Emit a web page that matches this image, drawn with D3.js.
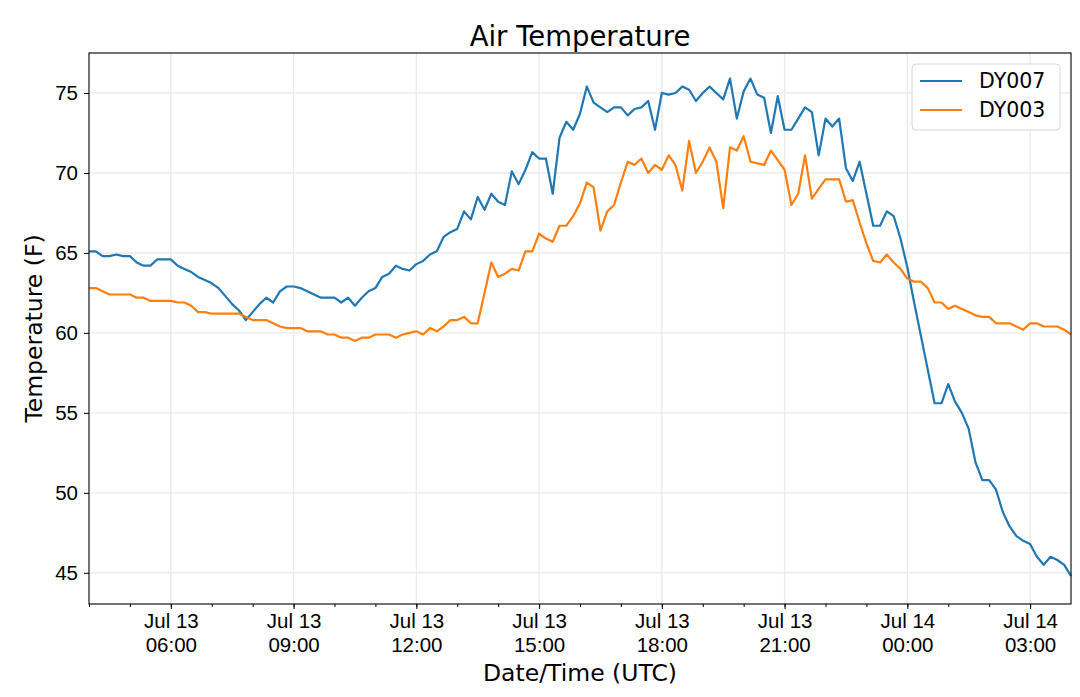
<!DOCTYPE html>
<html>
<head>
<meta charset="utf-8">
<script src="https://cdn.jsdelivr.net/npm/d3@7"></script>
<style>
  body { margin: 0; background: #fff; }
  svg { display: block; font-family: "DejaVu Sans", sans-serif; }
  .grid line { stroke: #ebebeb; stroke-width: 1.4; }
  .axis path, .axis line { stroke: #000; }
  .axis text { fill: #000; font-size: 20.5px; }
</style>
</head>
<body>
<script>
// 10-minute readings, Jul 13 04:00 UTC to Jul 14 04:00 UTC
var startTime = Date.UTC(2019, 6, 13, 4, 0);
var stepMinutes = 10;

var seriesNames = ["DY007", "DY003"];
var seriesColors = ["#1f77b4", "#ff7f0e"];

var dy007 = [
  65.1, 65.1, 64.8, 64.8, 64.9, 64.8, 64.8, 64.4, 64.2, 64.2,
  64.6, 64.6, 64.6, 64.2, 64.0, 63.8, 63.5, 63.3, 63.1, 62.8,
  62.3, 61.8, 61.4, 60.8, 61.3, 61.8, 62.2, 61.9, 62.6, 62.9,
  62.9, 62.8, 62.6, 62.4, 62.2, 62.2, 62.2, 61.9, 62.2, 61.7,
  62.2, 62.6, 62.8, 63.5, 63.7, 64.2, 64.0, 63.9, 64.3, 64.5,
  64.9, 65.1, 66.0, 66.3, 66.5, 67.6, 67.1, 68.5, 67.7, 68.7,
  68.2, 68.0, 70.1, 69.3, 70.2, 71.3, 70.9, 70.9, 68.7, 72.2,
  73.2, 72.7, 73.7, 75.4, 74.4, 74.1, 73.8, 74.1, 74.1, 73.6,
  74.0, 74.1, 74.5, 72.7, 75.0, 74.9, 75.0, 75.4, 75.2, 74.5,
  75.0, 75.4, 75.0, 74.6, 75.9, 73.4, 75.1, 75.9, 74.9, 74.7,
  72.5, 74.8, 72.7, 72.7, 73.4, 74.1, 73.8, 71.1, 73.4, 72.9,
  73.4, 70.3, 69.5, 70.7, 68.7, 66.7, 66.7, 67.6, 67.3, 65.9,
  64.1, 61.9, 59.8, 57.7, 55.6, 55.6, 56.8, 55.7, 55.0, 54.0,
  51.9, 50.8, 50.8, 50.2, 48.8, 47.9, 47.3, 47.0, 46.8, 46.0,
  45.5, 46.0, 45.8, 45.5, 44.8
];

var dy003 = [
  62.8, 62.8, 62.6, 62.4, 62.4, 62.4, 62.4, 62.2, 62.2, 62.0,
  62.0, 62.0, 62.0, 61.9, 61.9, 61.7, 61.3, 61.3, 61.2, 61.2,
  61.2, 61.2, 61.2, 61.0, 60.8, 60.8, 60.8, 60.6, 60.4, 60.3,
  60.3, 60.3, 60.1, 60.1, 60.1, 59.9, 59.9, 59.7, 59.7, 59.5,
  59.7, 59.7, 59.9, 59.9, 59.9, 59.7, 59.9, 60.0, 60.1, 59.9,
  60.3, 60.1, 60.4, 60.8, 60.8, 61.0, 60.6, 60.6, 62.5, 64.4,
  63.5, 63.7, 64.0, 63.9, 65.1, 65.1, 66.2, 65.9, 65.7, 66.7,
  66.7, 67.3, 68.1, 69.4, 69.1, 66.4, 67.6, 68.0, 69.4, 70.7,
  70.5, 70.9, 70.0, 70.5, 70.2, 71.1, 70.5, 68.9, 72.0, 70.0,
  70.7, 71.6, 70.7, 67.8, 71.6, 71.4, 72.3, 70.7, 70.6, 70.5,
  71.4, 70.8, 70.2, 68.0, 68.7, 71.1, 68.4, 69.0, 69.6, 69.6,
  69.6, 68.2, 68.3, 66.9, 65.6, 64.5, 64.4, 64.9, 64.4, 64.0,
  63.4, 63.2, 63.2, 62.8, 61.9, 61.9, 61.5, 61.7, 61.5, 61.3,
  61.1, 61.0, 61.0, 60.6, 60.6, 60.6, 60.4, 60.2, 60.6, 60.6,
  60.4, 60.4, 60.4, 60.2, 59.9
];

var yTicks = [45, 50, 55, 60, 65, 70, 75];

var width = 1080,
    height = 697,
    margin = { top: 53, right: 9, bottom: 93, left: 89 };

var times = dy007.map(function(d, i) {
  return new Date(startTime + i * stepMinutes * 60000);
});

var svg = d3.select("body").append("svg")
  .attr("width", width)
  .attr("height", height);

var x = d3.scaleUtc()
  .domain(d3.extent(times))
  .range([margin.left, width - margin.right]);

var y = d3.scaleLinear()
  .domain([43.05, 77.5])
  .range([height - margin.bottom, margin.top]);

var majorTicks = d3.utcHour.every(3).range(x.domain()[0], x.domain()[1]);
var minorTicks = d3.utcHour.every(1).range(x.domain()[0], x.domain()[1]);

// grid
var grid = svg.append("g").attr("class", "grid");
grid.selectAll(".gx").data(majorTicks).enter().append("line")
  .attr("x1", function(d) { return x(d); })
  .attr("x2", function(d) { return x(d); })
  .attr("y1", margin.top)
  .attr("y2", height - margin.bottom);
grid.selectAll(".gy").data(yTicks).enter().append("line")
  .attr("x1", margin.left)
  .attr("x2", width - margin.right)
  .attr("y1", function(d) { return y(d); })
  .attr("y2", function(d) { return y(d); });

// series
var line = d3.line()
  .x(function(d, i) { return x(times[i]); })
  .y(function(d) { return y(d); });

[dy007, dy003].forEach(function(vals, k) {
  svg.append("path")
    .datum(vals)
    .attr("fill", "none")
    .attr("stroke", seriesColors[k])
    .attr("stroke-width", 2.2)
    .attr("stroke-linejoin", "round")
    .attr("d", line);
});

// axes
var fmtDay = d3.utcFormat("%b %d"),
    fmtHour = d3.utcFormat("%H:%M");

svg.append("g")
  .attr("class", "axis")
  .attr("transform", "translate(0," + (height - margin.bottom) + ")")
  .call(d3.axisBottom(x).tickValues(minorTicks).tickSize(3).tickFormat(""))
  .call(function(g) { g.select(".domain").remove(); });

var xAxis = svg.append("g")
  .attr("class", "axis")
  .attr("transform", "translate(0," + (height - margin.bottom) + ")")
  .call(d3.axisBottom(x).tickValues(majorTicks).tickSize(5).tickFormat(""));
xAxis.select(".domain").remove();
xAxis.selectAll(".tick text").remove();
xAxis.selectAll(".tick").each(function(d) {
  var t = d3.select(this).append("text")
    .attr("fill", "#000")
    .attr("text-anchor", "middle")
    .attr("y", 24);
  t.append("tspan").attr("x", 0).text(fmtDay(d));
  t.append("tspan").attr("x", 0).attr("dy", 24).text(fmtHour(d));
});

var yAxis = svg.append("g")
  .attr("class", "axis")
  .attr("transform", "translate(" + margin.left + ",0)")
  .call(d3.axisLeft(y).tickValues(yTicks).tickSize(5).tickPadding(6));
yAxis.select(".domain").remove();

// frame
svg.append("rect")
  .attr("x", margin.left)
  .attr("y", margin.top)
  .attr("width", width - margin.left - margin.right)
  .attr("height", height - margin.top - margin.bottom)
  .attr("fill", "none")
  .attr("stroke", "#000")
  .attr("stroke-width", 1.1);

// labels
svg.append("text")
  .attr("x", (margin.left + width - margin.right) / 2)
  .attr("y", 46)
  .attr("text-anchor", "middle")
  .style("font-size", "27.5px")
  .text("Air Temperature");

svg.append("text")
  .attr("x", (margin.left + width - margin.right) / 2)
  .attr("y", 681)
  .attr("text-anchor", "middle")
  .style("font-size", "23.5px")
  .text("Date/Time (UTC)");

svg.append("text")
  .attr("transform", "translate(42," + (margin.top + height - margin.bottom) / 2 + ") rotate(-90)")
  .attr("text-anchor", "middle")
  .style("font-size", "23.5px")
  .text("Temperature (F)");

// legend
var legend = svg.append("g").attr("transform", "translate(912,64)");
legend.append("rect")
  .attr("width", 148)
  .attr("height", 66)
  .attr("rx", 4)
  .attr("fill", "#fff")
  .attr("fill-opacity", 0.85)
  .attr("stroke", "#d6d6d6");
seriesNames.forEach(function(name, k) {
  var row = legend.append("g").attr("transform", "translate(0," + (17 + k * 29) + ")");
  row.append("line")
    .attr("x1", 8).attr("x2", 50)
    .attr("stroke", seriesColors[k])
    .attr("stroke-width", 2.2);
  row.append("text")
    .attr("x", 67)
    .attr("y", 7)
    .style("font-size", "20.5px")
    .text(name);
});
</script>
</body>
</html>
